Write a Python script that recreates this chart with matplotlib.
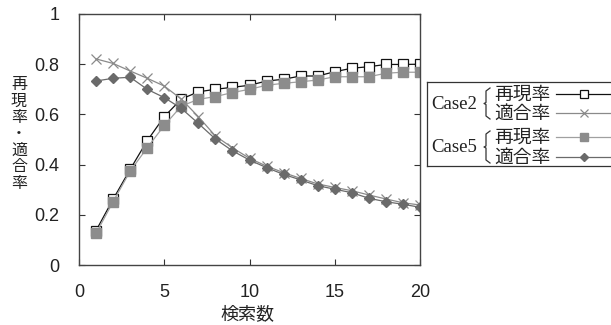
import numpy as np
import matplotlib
matplotlib.use("Agg")
import matplotlib.pyplot as plt
from matplotlib.lines import Line2D

n_search = np.arange(1, 21)
case2_recall = [0.137, 0.262, 0.381, 0.495, 0.591, 0.661, 0.690, 0.700, 0.708, 0.716,
                0.733, 0.740, 0.753, 0.753, 0.770, 0.784, 0.790, 0.799, 0.799, 0.800]
case2_precision = [0.821, 0.803, 0.773, 0.744, 0.713, 0.661, 0.591, 0.514, 0.467, 0.425,
                   0.394, 0.368, 0.345, 0.323, 0.309, 0.296, 0.279, 0.263, 0.248, 0.239]
case5_recall = [0.126, 0.252, 0.374, 0.467, 0.556, 0.633, 0.660, 0.671, 0.687, 0.700,
                0.716, 0.724, 0.730, 0.737, 0.750, 0.750, 0.750, 0.764, 0.768, 0.768]
case5_precision = [0.733, 0.744, 0.748, 0.700, 0.667, 0.624, 0.564, 0.502, 0.455, 0.418,
                   0.388, 0.361, 0.339, 0.316, 0.302, 0.288, 0.266, 0.252, 0.242, 0.230]

xticks = [0, 5, 10, 15, 20]
yticks = [0, 0.2, 0.4, 0.6, 0.8, 1.0]
ytick_labels = ["0", "0.2", "0.4", "0.6", "0.8", "1"]
cases = ["Case2", "Case5"]
row_labels = ["再現率", "適合率"]

JP = ["Noto Sans CJK JP", "DejaVu Sans"]
NUM = ["Liberation Sans", "DejaVu Sans"]

STY = [
    dict(color="#111111", lw=0.9, marker="s", ms=6.5, mfc="white", mec="#111111", mew=0.9),
    dict(color="#8a8a8a", lw=0.9, marker="x", ms=6.5, mec="#8a8a8a", mew=0.9),
    dict(color="#a0a0a0", lw=0.9, marker="s", ms=7, mfc="#8c8c8c", mec="#8c8c8c"),
    dict(color="#6a6a6a", lw=0.9, marker="D", ms=5.5, mfc="#6a6a6a", mec="#6a6a6a"),
]

W, H = 611, 325
fig = plt.figure(figsize=(W / 100, H / 100), dpi=100)
ax = fig.add_axes([79 / W, 1 - 265 / H, 341 / W, 251 / H])

series = [case2_recall, case2_precision, case5_recall, case5_precision]
for ys, st in zip(series, STY):
    ax.plot(n_search, ys, **st)

ax.set_xlim(0, 20)
ax.set_ylim(0, 1)
ax.set_xticks(xticks)
ax.set_yticks(yticks)
ax.set_yticklabels(ytick_labels)
ax.tick_params(direction="in", length=4, width=0.8, top=True, right=True,
               labelsize=13, pad=14, colors="#333333", labelcolor="#222222")
for lab in ax.get_xticklabels() + ax.get_yticklabels():
    lab.set_family(NUM)
for sp in ax.spines.values():
    sp.set_color("#444444")
    sp.set_linewidth(1.0)

fig.text(247 / W, 1 - 314 / H, "検索数", family=JP, fontsize=13,
         ha="center", va="center", color="#222222")
fig.text(19 / W, 1 - 134 / H, "\n".join("再現率・適合率"), family=JP, fontsize=11.5,
         ha="center", va="center", linespacing=0.95, color="#222222")

# legend drawn by hand (bracketed groups)
lx0, ly0, lw_, lh = 427, 82, 184, 84
lg = fig.add_axes([lx0 / W, 1 - (ly0 + lh) / H, lw_ / W, lh / H])
lg.set_xlim(0, lw_)
lg.set_ylim(lh, 0)
lg.set_xticks([])
lg.set_yticks([])
for sp in lg.spines.values():
    sp.set_color("#333333")
    sp.set_linewidth(0.9)
lg.spines["right"].set_visible(False)

rows_y = [12, 31, 55, 75]
for gi, case in enumerate(cases):
    y_a, y_b = rows_y[2 * gi], rows_y[2 * gi + 1]
    lg.text(4, (y_a + y_b) / 2 + 1, case, family="Liberation Serif", fontsize=13.5,
            ha="left", va="center", color="#222222")
    bx = 59
    ym = (y_a + y_b) / 2
    lg.plot([bx + 4, bx, bx, bx - 2, bx, bx, bx + 4],
            [y_a - 6, y_a - 3, ym - 1, ym, ym + 1, y_b + 3, y_b + 6],
            color="#333333", lw=0.9)
    for ri, rl in enumerate(row_labels):
        y = rows_y[2 * gi + ri]
        lg.text(67, y, rl, family=JP, fontsize=13.5, ha="left", va="center",
                color="#222222")
        st = STY[2 * gi + ri]
        lg.add_line(Line2D([129, 184], [y, y], color=st["color"], lw=st["lw"]))
        lg.plot([157], [y], ls="none", marker=st["marker"], ms=st["ms"] * 0.8,
                mfc=st.get("mfc", st["color"]), mec=st.get("mec", st["color"]),
                mew=st.get("mew", 1.0))

fig.savefig("out.png", dpi=100)
